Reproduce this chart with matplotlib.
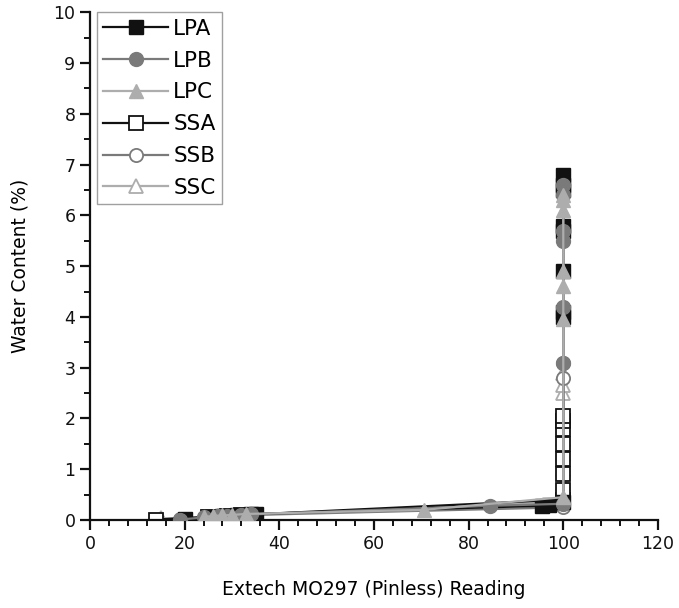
import matplotlib
matplotlib.use("Agg")
import matplotlib.pyplot as plt
from matplotlib.ticker import MultipleLocator

# Data
lpa_x = [20, 25, 28, 31, 34, 35, 95.5, 97, 100, 100, 100, 100, 100, 100, 100, 100, 100]
lpa_y = [0.02, 0.06, 0.08, 0.09, 0.11, 0.12, 0.28, 0.3, 0.35, 4.0, 4.1, 4.9, 5.7, 5.8, 6.5, 6.6, 6.8]

lpb_x = [19, 24, 27, 29, 32, 34, 84.5, 100, 100, 100, 100, 100, 100, 100]
lpb_y = [0.01, 0.05, 0.07, 0.08, 0.1, 0.11, 0.28, 0.32, 3.1, 4.2, 5.5, 5.7, 6.4, 6.6]

lpc_x = [24, 26, 28, 30, 33, 70.5, 100, 100, 100, 100, 100, 100, 100]
lpc_y = [0.06, 0.08, 0.09, 0.1, 0.12, 0.2, 0.45, 3.95, 4.6, 4.9, 6.1, 6.3, 6.4]

ssa_x = [14, 25, 29, 32, 100, 100, 100, 100, 100, 100, 100, 100]
ssa_y = [0.01, 0.06, 0.08, 0.1, 0.4, 0.6, 0.9, 1.2, 1.5, 1.8, 1.95, 2.05]

ssb_x = [19, 26, 30, 100, 100, 100, 100, 100]
ssb_y = [0.02, 0.07, 0.09, 0.25, 0.35, 0.5, 2.8, 3.1]

ssc_x = [15, 27, 31, 100, 100, 100, 100, 100, 100, 100, 100, 100]
ssc_y = [0.03, 0.07, 0.09, 0.35, 0.5, 0.7, 1.0, 1.3, 1.6, 2.5, 2.65, 2.9]

fig = plt.figure(figsize=(6.79, 6.08), dpi=100)
ax = fig.add_axes([0.1325, 0.1447, 0.8365, 0.835])

black = "#111111"
gray = "#7a7a7a"
light = "#adadad"
ms = 9.5
lw = 1.6

ax.plot(ssc_x, ssc_y, color=light, lw=lw, marker="^", ms=ms + 1, mfc="white", mec=light, mew=1.3, label="SSC", zorder=2)
ax.plot(ssb_x, ssb_y, color=gray, lw=lw, marker="o", ms=ms, mfc="white", mec=gray, mew=1.3, label="SSB", zorder=2)
ax.plot(ssa_x, ssa_y, color=black, lw=lw, marker="s", ms=ms, mfc="white", mec=black, mew=1.3, label="SSA", zorder=2)
ax.plot(lpa_x, lpa_y, color=black, lw=lw, marker="s", ms=ms, mfc=black, mec=black, label="LPA", zorder=3)
ax.plot(lpb_x, lpb_y, color=gray, lw=lw, marker="o", ms=ms + 0.5, mfc=gray, mec=gray, label="LPB", zorder=3)
ax.plot(lpc_x, lpc_y, color=light, lw=lw, marker="^", ms=ms + 1, mfc=light, mec=light, label="LPC", zorder=3)

ax.set_xlim(0, 120)
ax.set_ylim(0, 10)
ax.xaxis.set_major_locator(MultipleLocator(20))
ax.xaxis.set_minor_locator(MultipleLocator(4))
ax.yaxis.set_major_locator(MultipleLocator(1))
ax.yaxis.set_minor_locator(MultipleLocator(0.5))
for s in ["top", "right"]:
    ax.spines[s].set_visible(False)
for s in ["left", "bottom"]:
    ax.spines[s].set_linewidth(1.6)
    ax.spines[s].set_color("#111111")
ax.tick_params(which="major", length=7, width=1.6, labelsize=12.5, direction="out", colors="#111111")
ax.tick_params(which="minor", length=4, width=1.4, direction="out", colors="#111111")

ax.set_xlabel("Extech MO297 (Pinless) Reading", fontsize=13.5, labelpad=20)
ax.set_ylabel("Water Content (%)", fontsize=13.5, labelpad=17)

handles, labels = ax.get_legend_handles_labels()
order = ["LPA", "LPB", "LPC", "SSA", "SSB", "SSC"]
hmap = dict(zip(labels, handles))
leg = ax.legend([hmap[k] for k in order], order, loc="upper left", bbox_to_anchor=(0.012, 1.0),
                fontsize=15.5, frameon=True, fancybox=False, edgecolor="#888888",
                handlelength=3.0, handletextpad=0.25, labelspacing=0.55, borderpad=0.3,
                borderaxespad=0.0)
leg.get_frame().set_linewidth(1.0)

fig.savefig("out.png", dpi=100)
